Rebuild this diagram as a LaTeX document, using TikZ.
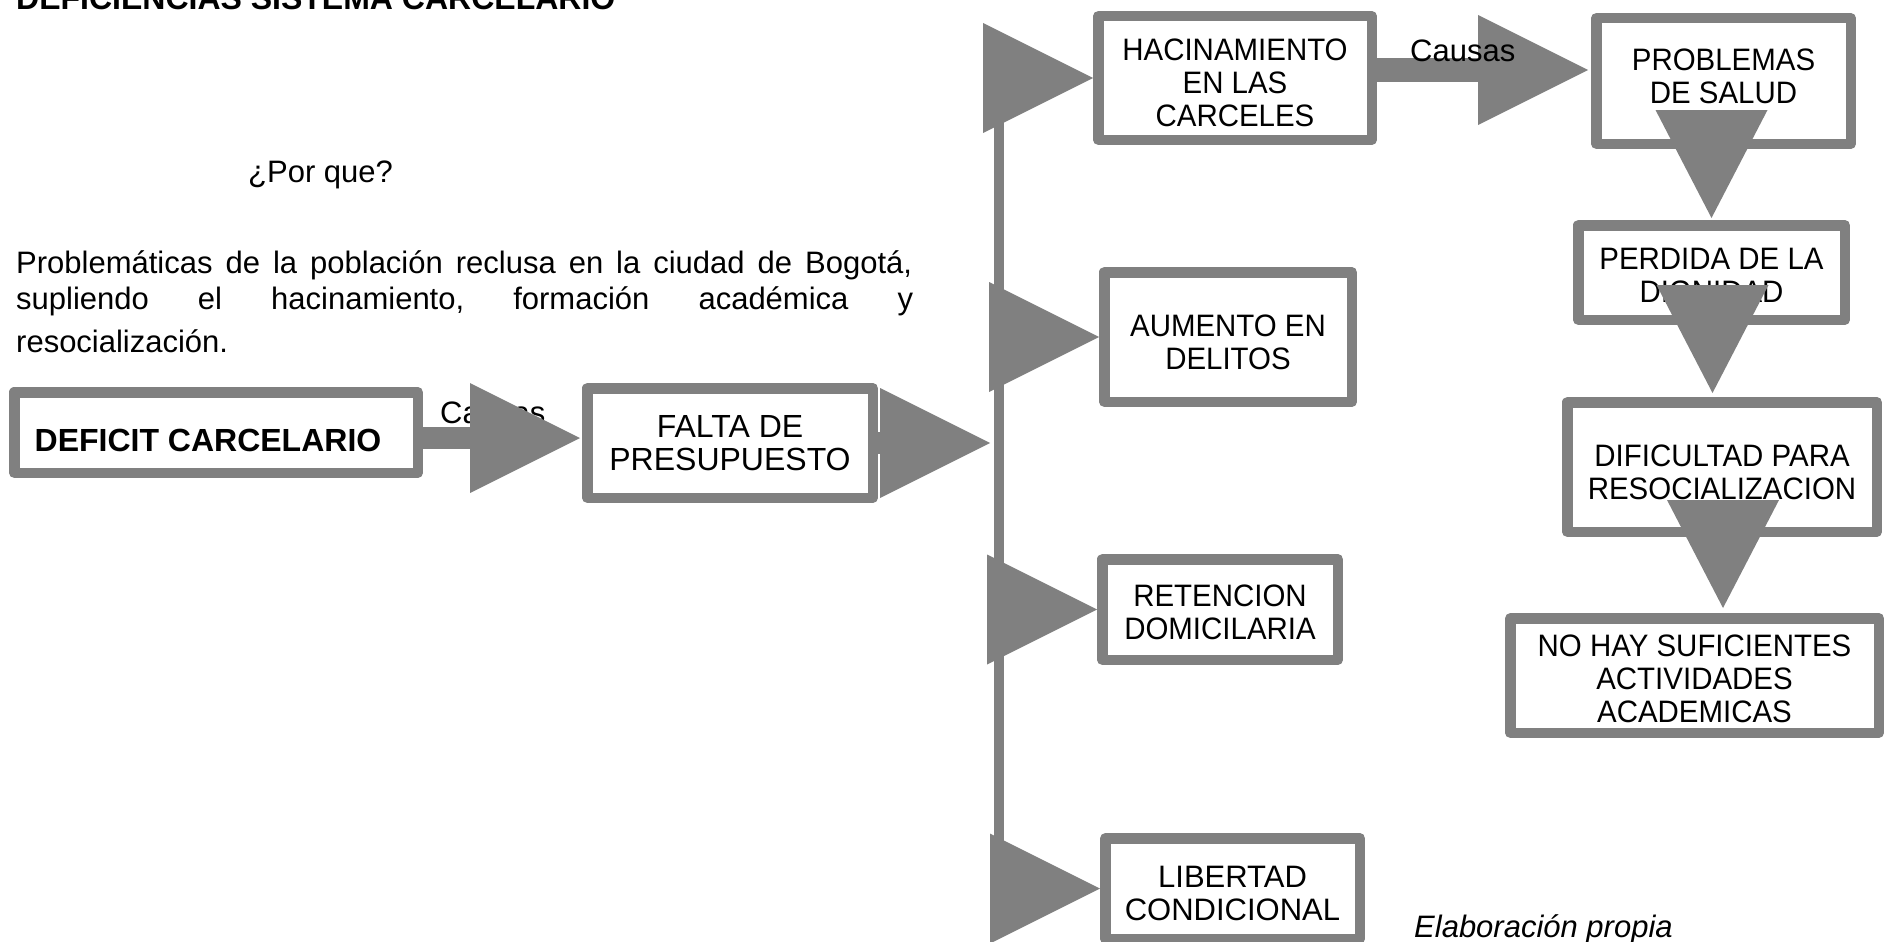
\documentclass[tikz,border=0pt]{standalone}
\usepackage{fontspec}
\setmainfont{Liberation Sans}
\newfontfamily\condfont[FakeStretch=0.95]{Liberation Sans}
\usetikzlibrary{calc}
\definecolor{ag}{HTML}{808080}
\newcommand\myRhead[1]{\fill[ag] ($(#1)+(-110,-55)$) -- (#1) -- ($(#1)+(-110,55)$) -- cycle;}
\newcommand\myDhead[1]{\fill[ag] ($(#1)+(-56,-108)$) -- (#1) -- ($(#1)+(56,-108)$) -- cycle;}
\begin{document}
\begin{tikzpicture}[x=1pt,y=-1pt,
  cbox/.style={draw=ag, line width=10.5pt, fill=white, line join=round, inner sep=0pt},
  boxtext/.style={inner sep=0pt, align=center, font=\condfont\fontsize{31}{33}\selectfont},
  bodytext/.style={inner sep=0pt, font=\fontsize{31}{34}\selectfont},
  shaft/.style={draw=ag, line width=22pt}]
\useasboundingbox (0,0) rectangle (1887,942);
\clip (0,0) rectangle (1887,942);

% texts
\node[bodytext, anchor=base west, font=\bfseries\fontsize{32}{34}\selectfont] (title) at (16,10) {DEFICIENCIAS SISTEMA CARCELARIO};
\node[bodytext, anchor=base west] (porque) at (248,182) {¿Por que?};
\node[bodytext, anchor=base west] (p1) at (16,273) {\hbox to 896pt{Problemáticas de la población reclusa en la ciudad de Bogotá,}};
\node[bodytext, anchor=base west] (p2) at (16,309) {\hbox to 897pt{supliendo\hfill el\hfill hacinamiento,\hfill formación\hfill académica\hfill y}};
\node[bodytext, anchor=base west] (p3) at (16,352) {resocialización.};

% boxes
\node[cbox, minimum width=403.5pt, minimum height=80.5pt] (deficit) at (216,432.5) {};
\node[cbox, minimum width=285.5pt, minimum height=109.5pt] (falta) at (730,443) {};
\node[cbox, minimum width=273.5pt, minimum height=123.5pt] (hac) at (1235,78) {};
\node[cbox, minimum width=247.5pt, minimum height=129.5pt] (aum) at (1228,337) {};
\node[cbox, minimum width=235.5pt, minimum height=100.5pt] (ret) at (1220,609.5) {};
\node[cbox, minimum width=254.5pt, minimum height=100.5pt] (lib) at (1232.5,888.5) {};
\node[cbox, minimum width=254.5pt, minimum height=125.5pt] (prob) at (1723.5,81) {};
\node[cbox, minimum width=266.5pt, minimum height=94.5pt] (perd) at (1711.5,272.5) {};
\node[cbox, minimum width=309.5pt, minimum height=129.5pt] (dif) at (1722,467) {};
\node[cbox, minimum width=368.5pt, minimum height=114.5pt] (nohay) at (1694.5,675.5) {};

% box texts
\node[boxtext, font=\bfseries\fontsize{32}{34}\selectfont] (deftext) at ($(deficit.center)+(-8,8)$) {DEFICIT CARCELARIO};
\node[boxtext, font=\fontsize{32}{33}\selectfont] (faltatext) at ($(falta.center)+(0,0)$) {FALTA DE\\PRESUPUESTO};
\node[boxtext] (hactext) at ($(hac.center)+(0,5)$) {HACINAMIENTO\\EN LAS\\CARCELES};
\node[boxtext] (aumtext) at ($(aum.center)+(0,5)$) {AUMENTO EN\\DELITOS};
\node[boxtext] (rettext) at ($(ret.center)+(0,3)$) {RETENCION\\DOMICILARIA};
\node[boxtext, font=\fontsize{31}{33}\selectfont] (libtext) at ($(lib.center)+(0,5)$) {LIBERTAD\\CONDICIONAL};
\node[boxtext] (probtext) at ($(prob.center)+(0,-5)$) {PROBLEMAS\\DE SALUD};
\node[boxtext] (perdtext) at ($(perd.center)+(0,3)$) {PERDIDA DE LA\\DIGNIDAD};
\node[boxtext] (diftext) at ($(dif.center)+(0,5)$) {DIFICULTAD PARA\\RESOCIALIZACION};
\node[boxtext] (nohaytext) at ($(nohay.center)+(0,3)$) {NO HAY SUFICIENTES\\ACTIVIDADES\\ACADEMICAS};

\node[bodytext, anchor=base west, font=\itshape\fontsize{31}{34}\selectfont] (elab) at (1414,937) {Elaboración propia};

% first connector (label behind the head)
\node[bodytext, anchor=base west] (causas1) at (440,423) {Causas};
\coordinate (t1) at ($(falta.west)+(-2,-5)$);
\draw[shaft] (deficit.east |- t1) -- ($(t1)+(-105,0)$);
\myRhead{t1}

% vertical distributor
\coordinate (vtop) at (999,74);
\coordinate (vbot) at (999,890);
\draw[ag, line width=10pt] (vtop) -- (vbot);
\coordinate (t2) at ($(falta.east -| vtop)+(-9,0)$);
\draw[shaft] (falta.east) -- ($(t2)+(-105,0)$);
\myRhead{t2}
\myRhead{hac.west}
\myRhead{aum.west}
\myRhead{ret.west}
\myRhead{lib.west}

% hacinamiento -> problemas
\coordinate (t5) at ($(prob.west)+(-3,-11)$);
\draw[shaft, line width=23pt] (hac.east |- t5) -- ($(t5)+(-105,0)$);
\myRhead{t5}
\node[bodytext, anchor=base west] (causas2) at (1410,62) {Causas};

% downward chain
\coordinate (t6) at ($(perd.north)+(0,-2)$);
\myDhead{t6}
\coordinate (t7) at ($(perd.center |- dif.north)+(1,-4)$);
\myDhead{t7}
\coordinate (t8) at ($(dif.center |- nohay.north)+(1,-5)$);
\myDhead{t8}
\end{tikzpicture}
\end{document}
